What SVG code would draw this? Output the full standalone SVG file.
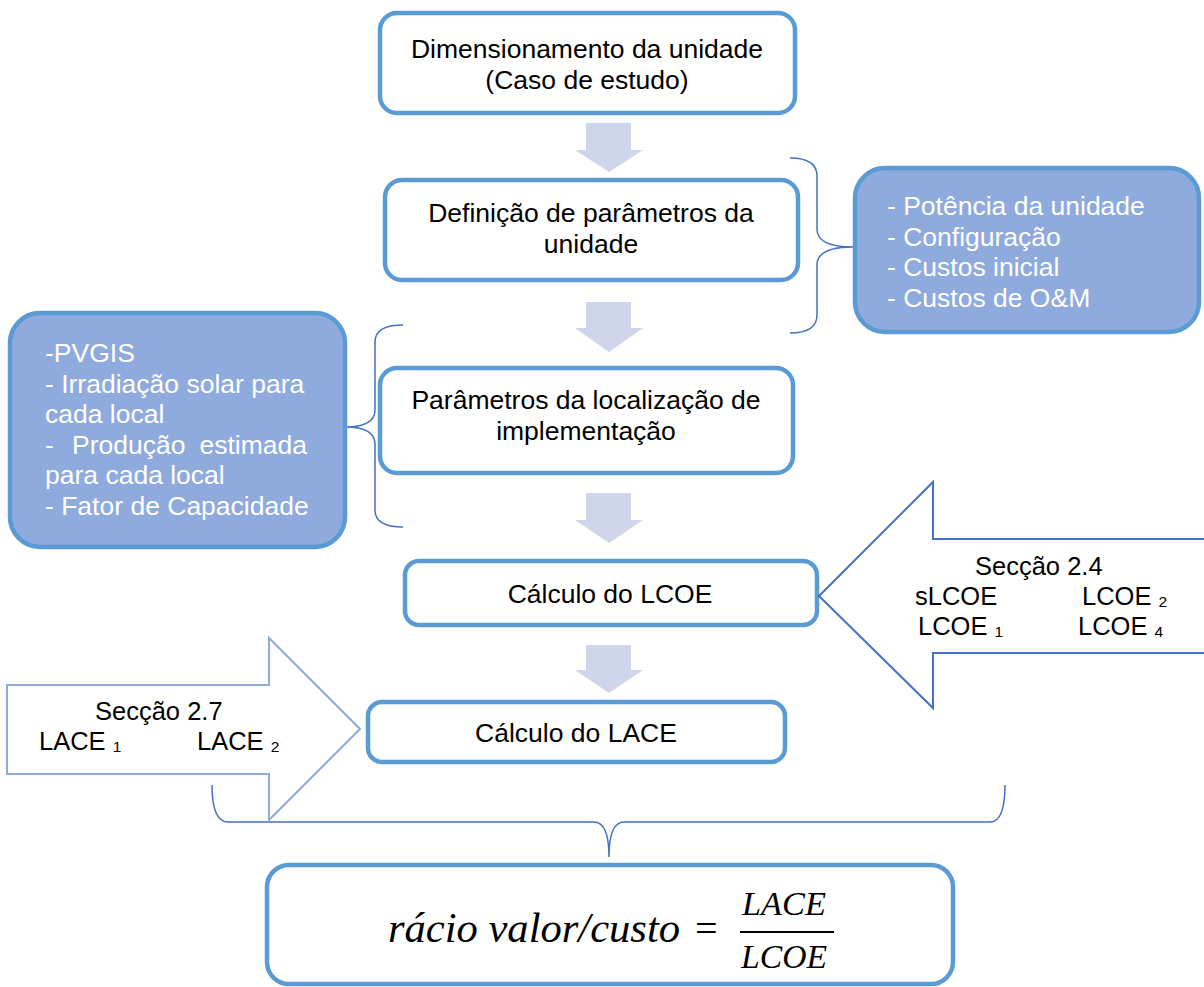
<svg xmlns="http://www.w3.org/2000/svg" width="1204" height="987" viewBox="0 0 1204 987">
<defs>
<style>
.box{fill:#ffffff;stroke:#5b9bd5;stroke-width:4.5}
.blue{fill:#8faadc;stroke:#5b9bd5;stroke-width:4.5}
.t{font-family:"Liberation Sans",Arial,sans-serif;font-size:26.5px;fill:#000000}
.tc{text-anchor:middle}
.w{font-family:"Liberation Sans",Arial,sans-serif;font-size:26.5px;fill:#ffffff}
.a{font-family:"Liberation Sans",Arial,sans-serif;font-size:25.5px;fill:#000000}
.sub{font-size:15.5px}
.down{fill:#cfd5ea;stroke:none}
.brace{fill:none;stroke:#4472c4;stroke-width:1.5}
.m{font-family:"Liberation Serif","Times New Roman",serif;font-style:italic;fill:#000000}
</style>
</defs>
<rect width="1204" height="987" fill="#ffffff"/>

<g id="connectors">
  <path class="down" d="M586,123 H631 V150 H643 L609,172 L575,150 H586 Z"/>
  <path class="down" d="M586,302 H631 V328 H643 L609,352 L575,328 H586 Z"/>
  <path class="down" d="M586,493 H631 V520 H643 L609,543 L575,520 H586 Z"/>
  <path class="down" d="M586,645 H631 V670 H643 L609,693 L575,670 H586 Z"/>
  <path class="brace" d="M790,158 Q817,158 817,176 L817,229 Q817,247 853,247 Q817,247 817,265 L817,315 Q817,333 790,333"/>
  <path class="brace" d="M403,325 Q375,325 375,342 L375,410 Q375,427 345,427 Q375,427 375,444 L375,510 Q375,527 403,527"/>
  <path class="brace" d="M212,785 Q212,822 228,822 L594,822 Q609,822 609,857 Q609,822 624,822 L990,822 Q1005,822 1005,785"/>
</g>

<g id="node-dimensionamento">
  <rect class="box" x="380" y="13" width="415" height="100" rx="17"/>
  <text class="t tc" x="587" y="58">Dimensionamento da unidade</text>
  <text class="t tc" x="587" y="89">(Caso de estudo)</text>
</g>

<g id="node-definicao">
  <rect class="box" x="385" y="180" width="413" height="100" rx="17"/>
  <text class="t tc" x="591" y="222">Definição de parâmetros da</text>
  <text class="t tc" x="591" y="253">unidade</text>
</g>

<g id="node-parametros-unidade">
  <rect class="blue" x="855" y="168" width="344" height="164" rx="30"/>
  <text class="w" x="887" y="215">- Potência da unidade</text>
  <text class="w" x="887" y="246">- Configuração</text>
  <text class="w" x="887" y="276">- Custos inicial</text>
  <text class="w" x="887" y="307">- Custos de O&amp;M</text>
</g>

<g id="node-pvgis">
  <rect class="blue" x="10" y="313" width="335" height="234" rx="30"/>
  <text class="w" x="45" y="362">-PVGIS</text>
  <text class="w" x="45" y="392.5">- Irradiação solar para</text>
  <text class="w" x="45" y="423">cada local</text>
  <text class="w" x="45" y="453.5">-</text>
  <text class="w" x="72" y="453.5">Produção</text>
  <text class="w" x="307" y="453.5" text-anchor="end">estimada</text>
  <text class="w" x="45" y="484">para cada local</text>
  <text class="w" x="45" y="514.5">- Fator de Capacidade</text>
</g>

<g id="node-localizacao">
  <rect class="box" x="380" y="368" width="413" height="105" rx="17"/>
  <text class="t tc" x="586" y="409">Parâmetros da localização de</text>
  <text class="t tc" x="586" y="440">implementação</text>
</g>

<g id="node-lcoe">
  <rect class="box" x="405" y="561" width="412" height="64" rx="14"/>
  <text class="t tc" x="610" y="603">Cálculo do LCOE</text>
</g>

<g id="node-seccao-24">
  <path d="M819,596 L933,482 V539 H1210 V653 H933 V708 Z" fill="#ffffff" stroke="#4472c4" stroke-width="2"/>
  <text class="a" x="975" y="575">Secção 2.4</text>
  <text class="a" x="915" y="605">sLCOE</text>
  <text class="a" x="1082" y="605">LCOE <tspan class="sub" dy="2">2</tspan></text>
  <text class="a" x="918" y="635">LCOE <tspan class="sub" dy="2">1</tspan></text>
  <text class="a" x="1078" y="635">LCOE <tspan class="sub" dy="2">4</tspan></text>
</g>

<g id="node-lace">
  <rect class="box" x="368" y="702" width="417" height="60" rx="14"/>
  <text class="t tc" x="576" y="742">Cálculo do LACE</text>
</g>

<g id="node-seccao-27">
  <path d="M7,685 H269 V638 L360,729 L269,820 V774 H7 Z" fill="#ffffff" stroke="#8faadc" stroke-width="2"/>
  <text class="a" x="95" y="720">Secção 2.7</text>
  <text class="a" x="39" y="750">LACE <tspan class="sub" dy="2">1</tspan></text>
  <text class="a" x="197" y="750">LACE <tspan class="sub" dy="2">2</tspan></text>
</g>

<g id="node-racio">
  <rect class="box" x="267" y="865" width="686" height="119" rx="22"/>
  <text class="m" x="388" y="942" font-size="42" textLength="292" lengthAdjust="spacingAndGlyphs">rácio valor/custo</text>
  <text x="695" y="942" font-family="Liberation Serif, serif" font-size="40" fill="#000000">=</text>
  <text class="m" x="742" y="915" font-size="33" textLength="84" lengthAdjust="spacingAndGlyphs">LACE</text>
  <line x1="740" y1="932" x2="834" y2="932" stroke="#000000" stroke-width="2"/>
  <text class="m" x="741" y="968" font-size="33" textLength="86" lengthAdjust="spacingAndGlyphs">LCOE</text>
</g>
</svg>
